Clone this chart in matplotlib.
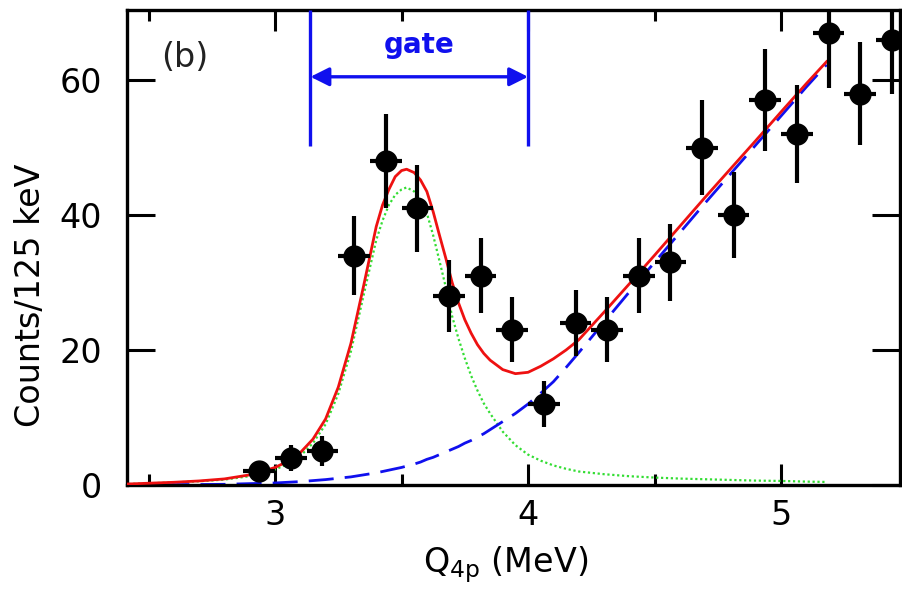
import matplotlib

matplotlib.use("Agg")

import matplotlib.pyplot as plt
import numpy as np

# measured spectrum, 125 keV bins
bin_centers = [2.9375, 3.0625, 3.1875, 3.3125, 3.4375, 3.5625, 3.6875, 3.8125,
               3.9375, 4.0625, 4.1875, 4.3125, 4.4375, 4.5625, 4.6875, 4.8125,
               4.9375, 5.0625, 5.1875, 5.3125, 5.4375]
counts = [2, 4, 5, 34, 48, 41, 28, 31, 23, 12, 24, 23, 31, 33, 50, 40, 57, 52, 67, 58, 66]
half_bin = 0.0625

# fit components
fit_x = [2.42, 2.6, 2.7, 2.8, 2.9, 2.95, 3.0, 3.05, 3.1, 3.15, 3.2, 3.25, 3.3, 3.35,
         3.4, 3.425, 3.45, 3.475, 3.5, 3.52, 3.55, 3.575, 3.6, 3.625, 3.65, 3.675,
         3.7, 3.725, 3.75, 3.775, 3.8, 3.825, 3.85, 3.9, 3.95,
         4.0, 4.05, 4.1, 4.15, 4.2, 4.3, 4.4, 4.5, 4.6, 4.7, 4.8, 4.9, 5.0, 5.1, 5.18]
total_fit = [0.15, 0.4, 0.6, 0.9, 1.5, 2.0, 2.6, 3.5, 4.8, 6.8, 9.8, 14.5, 21.0, 29.5,
             38.3, 41.5, 43.8, 45.7, 46.6, 46.8, 46.3, 45.2, 43.5, 40.5, 37.0, 33.6,
             30.0, 27.0, 24.5, 22.5, 20.8, 19.5, 18.5, 17.1, 16.5,
             16.7, 17.6, 18.7, 20.0, 21.5, 25.6, 29.8, 34.05, 38.35, 42.65, 46.85, 51.05,
             55.3, 59.5, 62.75]
peak_fit = [0.15, 0.38, 0.55, 0.8, 1.3, 1.75, 2.3, 3.1, 4.3, 6.2, 9.0, 13.5, 19.8, 28.1,
            36.3, 39.2, 41.5, 43.0, 43.8, 44.1, 43.5, 42.2, 40.3, 37.0, 33.2, 29.3,
            25.0, 21.7, 18.8, 16.2, 14.0, 12.1, 10.6, 7.9, 5.9,
            4.5, 3.6, 2.9, 2.4, 2.0, 1.6, 1.3, 1.1, 0.95, 0.85, 0.75, 0.65, 0.6, 0.5, 0.45]
background_fit = [0.0, 0.05, 0.07, 0.1, 0.2, 0.25, 0.3, 0.4, 0.5, 0.65, 0.8, 1.0, 1.2, 1.5,
                  1.8, 2.0, 2.2, 2.4, 2.6, 2.8, 3.1, 3.4, 3.8, 4.1, 4.5, 4.9,
                  5.3, 5.7, 6.2, 6.6, 7.1, 7.6, 8.2, 9.4, 10.6,
                  12.0, 13.6, 15.3, 17.4, 19.6, 24.1, 28.6, 33.0, 37.4, 41.8, 46.1, 50.4,
                  54.7, 59.0, 62.3]

gate_lo, gate_hi = 3.14, 4.0

plt.rcParams["font.family"] = ["DejaVu Sans"]

fig = plt.figure(figsize=(9.02, 5.95), dpi=100)
ax = fig.add_axes([0.1408, 0.1849, 0.8570, 0.7983])

ax.plot(fit_x, peak_fit, color="#33dd33", linestyle=(0, (1, 1.2)), linewidth=1.6, zorder=2)
ax.plot(fit_x, background_fit, color="#1010ee", linestyle=(0, (9, 4)), linewidth=2.0, zorder=2)
ax.plot(fit_x, total_fit, color="#ee1111", linewidth=2.0, zorder=3)

ax.errorbar(bin_centers, counts, xerr=half_bin, yerr=np.sqrt(counts), fmt="o",
            color="black", markersize=15, elinewidth=3, capsize=0, zorder=4)

# gate marker
ax.vlines([gate_lo, gate_hi], 50.3, 70.4, color="#1010ee", linewidth=2.4, zorder=5)
ax.annotate("", xy=(gate_lo, 60.5), xytext=(gate_hi, 60.5),
            arrowprops=dict(arrowstyle="<|-|>", color="#1010ee", lw=2.4,
                            mutation_scale=28, shrinkA=0, shrinkB=0))
ax.text((gate_lo + gate_hi) / 2, 65.2, "gate", color="#1010ee", fontsize=20,
        fontweight="bold", ha="center", va="center")
ax.text(2.645, 63.3, "(b)", color="#222222", fontsize=24, ha="center", va="center")

ax.set_xlim(2.415, 5.47)
ax.set_ylim(0, 70.4)
ax.set_xticks([3, 4, 5])
ax.set_xticks([2.5, 3.5, 4.5], minor=True)
ax.set_yticks([0, 20, 40, 60])
ax.tick_params(axis="both", which="major", direction="in", top=True, right=True,
               width=2.2, labelsize=24)
ax.tick_params(axis="x", which="major", length=15, pad=10)
ax.tick_params(axis="y", which="major", length=20, pad=18)
ax.tick_params(axis="x", which="minor", direction="in", top=True, length=8, width=2.2)
for spine in ax.spines.values():
    spine.set_linewidth(2.4)

ax.set_xlabel("Q$_{\\rm 4p}$ (MeV)", fontsize=24)
ax.set_ylabel("Counts/125 keV", fontsize=24)
ax.xaxis.set_label_coords(0.49, -0.125)
ax.yaxis.set_label_coords(-0.104, 0.40)

fig.savefig("out.png", dpi=100)
plt.close(fig)
